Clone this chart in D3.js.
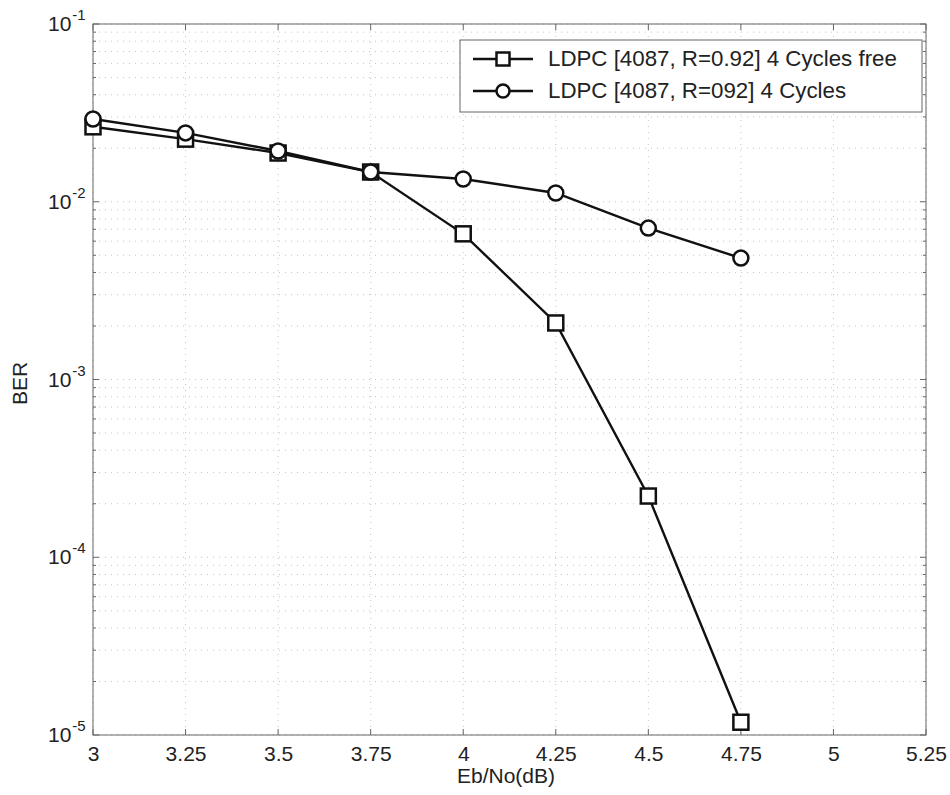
<!DOCTYPE html>
<html><head><meta charset="utf-8">
<script src="https://cdn.jsdelivr.net/npm/d3@7"></script>
<style>body{margin:0;background:#fff}text{font-family:"Liberation Sans",Arial,sans-serif;fill:#222}</style>
</head><body><svg id="c" width="950" height="795"></svg>
<script>
const ebno = [3, 3.25, 3.5, 3.75, 4, 4.25, 4.5, 4.75];
const berFree = [0.0264, 0.0225, 0.0188, 0.0147, 0.0066, 0.00208, 0.000221, 0.0000118];
const berCycles = [0.0292, 0.0244, 0.0193, 0.0147, 0.01343, 0.0112, 0.00711, 0.00482];
const xTicks = [3, 3.25, 3.5, 3.75, 4, 4.25, 4.5, 4.75, 5, 5.25];
const yExps = [-1, -2, -3, -4, -5];
const seriesNames = ["LDPC [4087, R=0.92] 4 Cycles free", "LDPC [4087, R=092] 4 Cycles"];

const svg = d3.select("#c");
const L = 93, R = 926, T = 24, B = 735;
const x = d3.scaleLinear().domain([3, 5.25]).range([L, R]);
const y = d3.scaleLog().domain([1e-5, 1e-1]).range([B, T]);

// grid
const g = svg.append("g");
const minor = [];
for (let e = -5; e < -1; e++) for (let m = 1; m <= 9; m++) minor.push(m * Math.pow(10, e));
minor.push(1e-1);
g.selectAll("line.hy").data(minor).join("line")
  .attr("x1", L).attr("x2", R).attr("y1", d => y(d)).attr("y2", d => y(d))
  .attr("stroke", "#c4c4c4").attr("stroke-width", 1).attr("stroke-dasharray", "1,5");
g.selectAll("line.vx").data(xTicks).join("line")
  .attr("y1", T).attr("y2", B).attr("x1", d => x(d)).attr("x2", d => x(d))
  .attr("stroke", "#c4c4c4").attr("stroke-width", 1).attr("stroke-dasharray", "1,5");

// box
svg.append("rect").attr("x", L).attr("y", T).attr("width", R - L).attr("height", B - T)
  .attr("fill", "none").attr("stroke", "#666").attr("stroke-width", 1);

// ticks
const ax = svg.append("g").attr("transform", `translate(0,${B})`)
  .call(d3.axisBottom(x).tickValues(xTicks).tickSize(0).tickPadding(11).tickFormat(d3.format("")));
ax.select(".domain").remove();
ax.selectAll("text").attr("font-size", 21).attr("fill", "#222");
svg.selectAll("line.tk").data(xTicks).join("line")
  .attr("x1", d => x(d)).attr("x2", d => x(d)).attr("y1", B).attr("y2", B - 6).attr("stroke", "#666");
svg.selectAll("line.tkt").data(xTicks).join("line")
  .attr("x1", d => x(d)).attr("x2", d => x(d)).attr("y1", T).attr("y2", T + 6).attr("stroke", "#666");
const isMajor = d => Math.abs(Math.log10(d) - Math.round(Math.log10(d))) < 1e-9;
svg.selectAll("line.tky").data(minor).join("line")
  .attr("x1", L).attr("x2", d => L + (isMajor(d) ? 6 : 3))
  .attr("y1", d => y(d)).attr("y2", d => y(d)).attr("stroke", "#666");
svg.selectAll("line.tkyr").data(minor).join("line")
  .attr("x1", R).attr("x2", d => R - (isMajor(d) ? 6 : 3))
  .attr("y1", d => y(d)).attr("y2", d => y(d)).attr("stroke", "#666");

const yl = svg.append("g");
yExps.forEach(e => {
  const t = yl.append("text").attr("x", 48).attr("y", y(Math.pow(10, e)) + 7)
    .attr("font-size", 21);
  t.append("tspan").text("10");
  t.append("tspan").text(e).attr("font-size", 15).attr("dy", -11).attr("dx", 1);
});

svg.append("text").attr("transform", `translate(27,${(T + B) / 2 + 4}) rotate(-90)`)
  .attr("text-anchor", "middle").attr("font-size", 21).text("BER");
svg.append("text").attr("x", 506).attr("y", 783)
  .attr("text-anchor", "middle").attr("font-size", 21).text("Eb/No(dB)");

// lines
const line = d3.line().x(d => x(d[0])).y(d => y(d[1]));
const d1 = ebno.map((v, i) => [v, berFree[i]]);
const d2 = ebno.map((v, i) => [v, berCycles[i]]);
[d2, d1].forEach(d => svg.append("path").datum(d).attr("d", line)
  .attr("fill", "none").attr("stroke", "#111").attr("stroke-width", 2.4));
svg.selectAll("rect.m").data(d1).join("rect")
  .attr("x", d => x(d[0]) - 7.5).attr("y", d => y(d[1]) - 7.5).attr("width", 15).attr("height", 15)
  .attr("fill", "#fff").attr("stroke", "#111").attr("stroke-width", 2.5);
svg.selectAll("circle.m").data(d2).join("circle")
  .attr("cx", d => x(d[0])).attr("cy", d => y(d[1])).attr("r", 7.5)
  .attr("fill", "#fff").attr("stroke", "#111").attr("stroke-width", 2.5);

// legend
const lg = svg.append("g");
lg.append("rect").attr("x", 460).attr("y", 40).attr("width", 462).attr("height", 72)
  .attr("fill", "#fff").attr("stroke", "#666");
[0, 1].forEach(i => {
  const cy = 59 + i * 32;
  lg.append("line").attr("x1", 473).attr("x2", 533).attr("y1", cy).attr("y2", cy)
    .attr("stroke", "#111").attr("stroke-width", 2.4);
  if (i === 0) lg.append("rect").attr("x", 496.5).attr("y", cy - 6.5).attr("width", 13).attr("height", 13)
    .attr("fill", "#fff").attr("stroke", "#111").attr("stroke-width", 2.5);
  else lg.append("circle").attr("cx", 503).attr("cy", cy).attr("r", 6.5)
    .attr("fill", "#fff").attr("stroke", "#111").attr("stroke-width", 2.5);
  lg.append("text").attr("x", 548).attr("y", cy + 7).attr("font-size", 22.3).text(seriesNames[i]);
});
</script></body></html>
